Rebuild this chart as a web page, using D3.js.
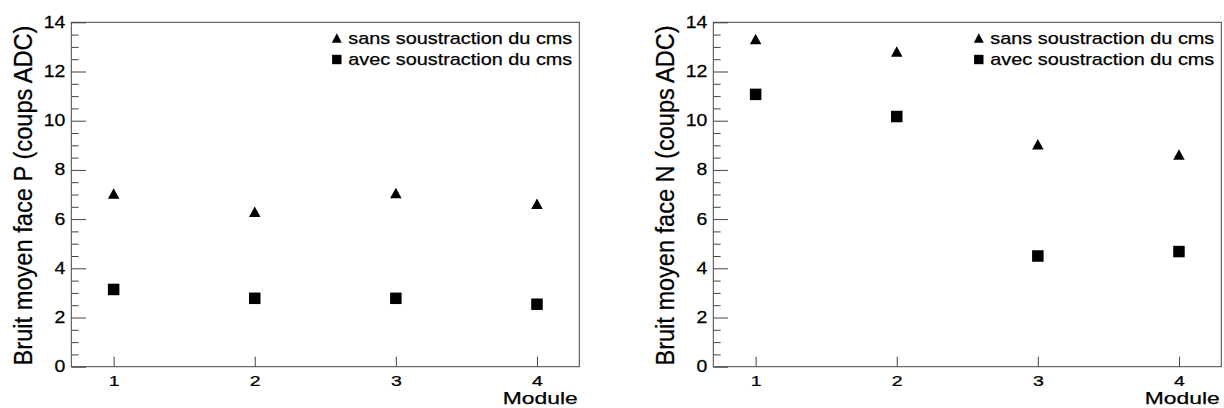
<!DOCTYPE html>
<html>
<head>
<meta charset="utf-8">
<script src="https://cdn.jsdelivr.net/npm/d3@7"></script>
<style>
  html, body { margin: 0; padding: 0; background: #fff; }
  svg { display: block; }
  text { font-family: "Liberation Sans", Arial, Helvetica, sans-serif; fill: #000; stroke: #000; stroke-width: 0.25px; }
</style>
</head>
<body>
<svg id="chart" width="1224" height="408"></svg>
<script>
// ---- data ----
const modules = [1, 2, 3, 4];
const xTickLabels = ["1", "2", "3", "4"];
const yTickValues = [0, 2, 4, 6, 8, 10, 12, 14];
const seriesNames = ["sans soustraction du cms", "avec soustraction du cms"];
const panelTitles = ["Bruit moyen face P (coups ADC)", "Bruit moyen face N (coups ADC)"];
const xLabel = "Module";
const sansP = [7.04, 6.30, 7.06, 6.62];
const avecP = [3.14, 2.78, 2.78, 2.54];
const sansN = [13.32, 12.81, 9.04, 8.63];
const avecN = [11.07, 10.17, 4.50, 4.68];

const panelsData = [
  { title: panelTitles[0], sans: sansP, avec: avecP },
  { title: panelTitles[1], sans: sansN, avec: avecN }
];

// ---- layout ----
const svg = d3.select("#chart");
const panelLefts = [71.3, 713.3];
const panelWidth = 508;
const plotTop = 22.3, plotBottom = 366.7;
const axisColor = "#444";
const sx = 1.23; // horizontal stretch of tick labels

function triPath(w, h) {
  return `M${-w/2},${h/2}L${w/2},${h/2}L0,${-h/2}Z`;
}

panelsData.forEach((p, i) => {
  const L = panelLefts[i], R = L + panelWidth;
  const x = d3.scaleLinear().domain([0.7, 4.3]).range([L, R]);
  const y = d3.scaleLinear().domain([0, 14]).range([plotBottom, plotTop]);
  const g = svg.append("g");

  // frame
  g.append("rect")
    .attr("x", L).attr("y", plotTop)
    .attr("width", R - L).attr("height", plotBottom - plotTop)
    .attr("fill", "none").attr("stroke", axisColor).attr("stroke-width", 1);

  // y minor ticks
  const minor = d3.range(0, 14.01, 0.5).filter(v => Math.abs(v % 2) > 1e-6);
  g.append("g")
    .attr("transform", `translate(${L},0)`)
    .call(d3.axisLeft(y).tickValues(minor).tickSize(-7.3).tickSizeOuter(0).tickFormat(""))
    .call(s => s.select(".domain").remove())
    .call(s => s.selectAll("line").attr("stroke", axisColor));

  // y major ticks
  g.append("g")
    .attr("transform", `translate(${L},0)`)
    .call(d3.axisLeft(y).tickValues(yTickValues).tickSize(-14.7).tickSizeOuter(0).tickPadding(6).tickFormat(d3.format("d")))
    .call(s => s.select(".domain").remove())
    .call(s => s.selectAll("line").attr("stroke", axisColor))
    .call(s => s.selectAll("text")
      .attr("font-size", 15.8)
      .attr("x", 0)
      .attr("transform", "translate(-6,0) scale(" + sx + ",1)")
      .attr("fill", "#000"));

  // x ticks
  g.append("g")
    .attr("transform", `translate(0,${plotBottom})`)
    .call(d3.axisBottom(x).tickValues(modules).tickSize(-10).tickSizeOuter(0).tickFormat((d, k) => xTickLabels[k]))
    .call(s => s.select(".domain").remove())
    .call(s => s.selectAll("line").attr("stroke", axisColor))
    .call(s => s.selectAll("text")
      .attr("font-size", 15.5)
      .attr("y", 0).attr("dy", 0)
      .attr("transform", "translate(0,19.6) scale(" + (sx + 0.03) + ",1)")
      .attr("fill", "#000"));

  // x label
  g.append("text")
    .attr("x", R - 76.5).attr("y", 404.4)
    .attr("font-size", 16.5)
    .attr("textLength", 75).attr("lengthAdjust", "spacingAndGlyphs")
    .text(xLabel);

  // y label
  g.append("text")
    .attr("transform", `translate(${L - 39.6},${(plotTop + plotBottom) / 2 + 1}) rotate(-90)`)
    .attr("text-anchor", "middle")
    .attr("font-size", 25)
    .attr("textLength", 340).attr("lengthAdjust", "spacingAndGlyphs")
    .text(p.title);

  // data: triangles
  g.selectAll("path.sans").data(p.sans).join("path")
    .attr("class", "sans")
    .attr("d", triPath(11.5, 10.5))
    .attr("transform", (d, k) => `translate(${x(modules[k])},${y(d)})`)
    .attr("fill", "#000");

  // data: squares
  const sq = 11.5;
  g.selectAll("rect.avec").data(p.avec).join("rect")
    .attr("class", "avec")
    .attr("x", (d, k) => x(modules[k]) - sq / 2)
    .attr("y", d => y(d) - sq / 2)
    .attr("width", sq).attr("height", sq)
    .attr("fill", "#000");

  // legend
  const tx = R - 231;
  const baselines = [43.5, 65];
  g.append("path")
    .attr("d", triPath(10, 9.5))
    .attr("transform", `translate(${tx - 11.5},${baselines[0] - 5.5})`)
    .attr("fill", "#000");
  g.append("rect")
    .attr("x", tx - 11.5 - 4.7).attr("y", baselines[1] - 5.5 - 4.7)
    .attr("width", 9.4).attr("height", 9.4)
    .attr("fill", "#000");
  seriesNames.forEach((name, k) => {
    g.append("text")
      .attr("x", tx).attr("y", baselines[k])
      .attr("font-size", 17)
      .attr("textLength", 224).attr("lengthAdjust", "spacingAndGlyphs")
      .text(name);
  });
});
</script>
</body>
</html>
